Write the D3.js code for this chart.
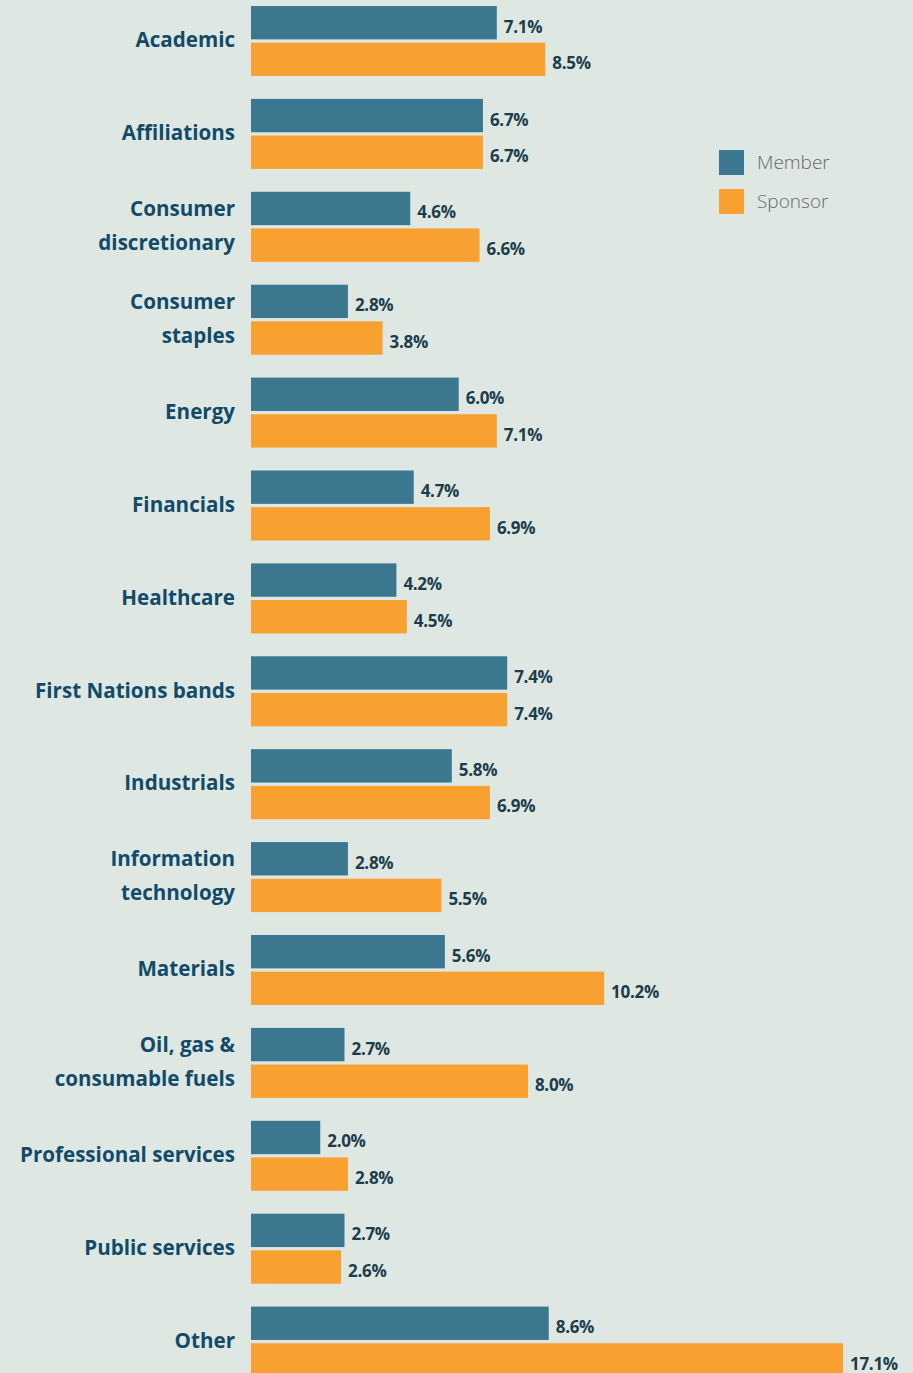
<!DOCTYPE html>
<html>
<head>
<meta charset="utf-8">
<script src="https://cdn.jsdelivr.net/npm/d3@7"></script>
<style>
  html, body { margin: 0; padding: 0; background: #dee7e2; }
  svg { display: block; }
</style>
</head>
<body>
<div id="chart"></div>
<script>
// categories, each one a list of text lines
var categories = [
  ["Academic"],
  ["Affiliations"],
  ["Consumer", "discretionary"],
  ["Consumer", "staples"],
  ["Energy"],
  ["Financials"],
  ["Healthcare"],
  ["First Nations bands"],
  ["Industrials"],
  ["Information", "technology"],
  ["Materials"],
  ["Oil, gas &", "consumable fuels"],
  ["Professional services"],
  ["Public services"],
  ["Other"]
];
var member  = [7.1, 6.7, 4.6, 2.8, 6.0, 4.7, 4.2, 7.4, 5.8, 2.8, 5.6, 2.7, 2.0, 2.7, 8.6];
var sponsor = [8.5, 6.7, 6.6, 3.8, 7.1, 6.9, 4.5, 7.4, 6.9, 5.5, 10.2, 8.0, 2.8, 2.6, 17.1];
var seriesNames = ["Member", "Sponsor"];

var width = 913,
    height = 1373;

var color = { Member: "#3b778f", Sponsor: "#f8a030" };

var keys = categories.map(function(c) { return c.join(" "); });

var x = d3.scaleLinear()
  .domain([0, 17.1])
  .range([251, 843]);

var y = d3.scaleBand()
  .domain(keys)
  .range([6, 6 + 14 * 92.9 + 70])
  .paddingInner(0.2465)
  .paddingOuter(0);

var ySub = d3.scaleBand()
  .domain(seriesNames)
  .range([0, y.bandwidth()])
  .paddingInner(0.09);

var svg = d3.select("#chart").append("svg")
  .attr("width", width)
  .attr("height", height);

var rows = keys.map(function(k, i) {
  return { key: k, lines: categories[i], Member: member[i], Sponsor: sponsor[i] };
});

var group = svg.selectAll("g.group")
  .data(rows)
  .enter().append("g")
  .attr("class", "group")
  .attr("transform", function(d) { return "translate(0," + y(d.key) + ")"; });

// bars
group.selectAll("rect")
  .data(function(d) { return seriesNames.map(function(s) { return { s: s, v: d[s] }; }); })
  .enter().append("rect")
  .attr("x", x(0))
  .attr("y", function(d) { return ySub(d.s); })
  .attr("width", function(d) { return x(d.v) - x(0); })
  .attr("height", ySub.bandwidth())
  .attr("fill", function(d) { return color[d.s]; });

// value labels
group.selectAll("text.val")
  .data(function(d) { return seriesNames.map(function(s) { return { s: s, v: d[s] }; }); })
  .enter().append("text")
  .attr("class", "val")
  .attr("x", function(d) { return x(d.v) + 7; })
  .attr("y", function(d) { return ySub(d.s) + ySub.bandwidth() / 2 + 4; })
  .attr("dy", "0.35em")
  .attr("font-family", "'Open Sans', sans-serif")
  .attr("font-weight", 700)
  .attr("font-size", "17px")
  .attr("letter-spacing", "-0.3px")
  .attr("fill", "#1c3e4c")
  .text(function(d) { return d.v.toFixed(1) + "%"; });

// category labels
var lab = group.append("text")
  .attr("x", 235)
  .attr("text-anchor", "end")
  .attr("font-family", "'Open Sans', sans-serif")
  .attr("font-weight", 700)
  .attr("font-size", "20.6px")
  .attr("fill", "#124b6a");

lab.selectAll("tspan")
  .data(function(d) { return d.lines.map(function(l, i) { return { l: l, i: i, n: d.lines.length }; }); })
  .enter().append("tspan")
  .attr("x", 235)
  .attr("y", function(d) { return y.bandwidth() / 2 + (d.i - (d.n - 1) / 2) * 34 - 1; })
  .attr("dy", "0.35em")
  .text(function(d) { return d.l; });

// legend
var legend = svg.append("g")
  .attr("transform", "translate(719,150)");

var item = legend.selectAll("g")
  .data(seriesNames)
  .enter().append("g")
  .attr("transform", function(d, i) { return "translate(0," + i * 39 + ")"; });

item.append("rect")
  .attr("width", 25)
  .attr("height", 25)
  .attr("fill", function(d) { return color[d]; });

item.append("text")
  .attr("x", 38)
  .attr("y", 12.5)
  .attr("dy", "0.35em")
  .attr("font-family", "'Open Sans', sans-serif")
  .attr("font-weight", 300)
  .attr("font-size", "19px")
  .attr("fill", "#666a6a")
  .text(function(d) { return d; });
</script>
</body>
</html>
